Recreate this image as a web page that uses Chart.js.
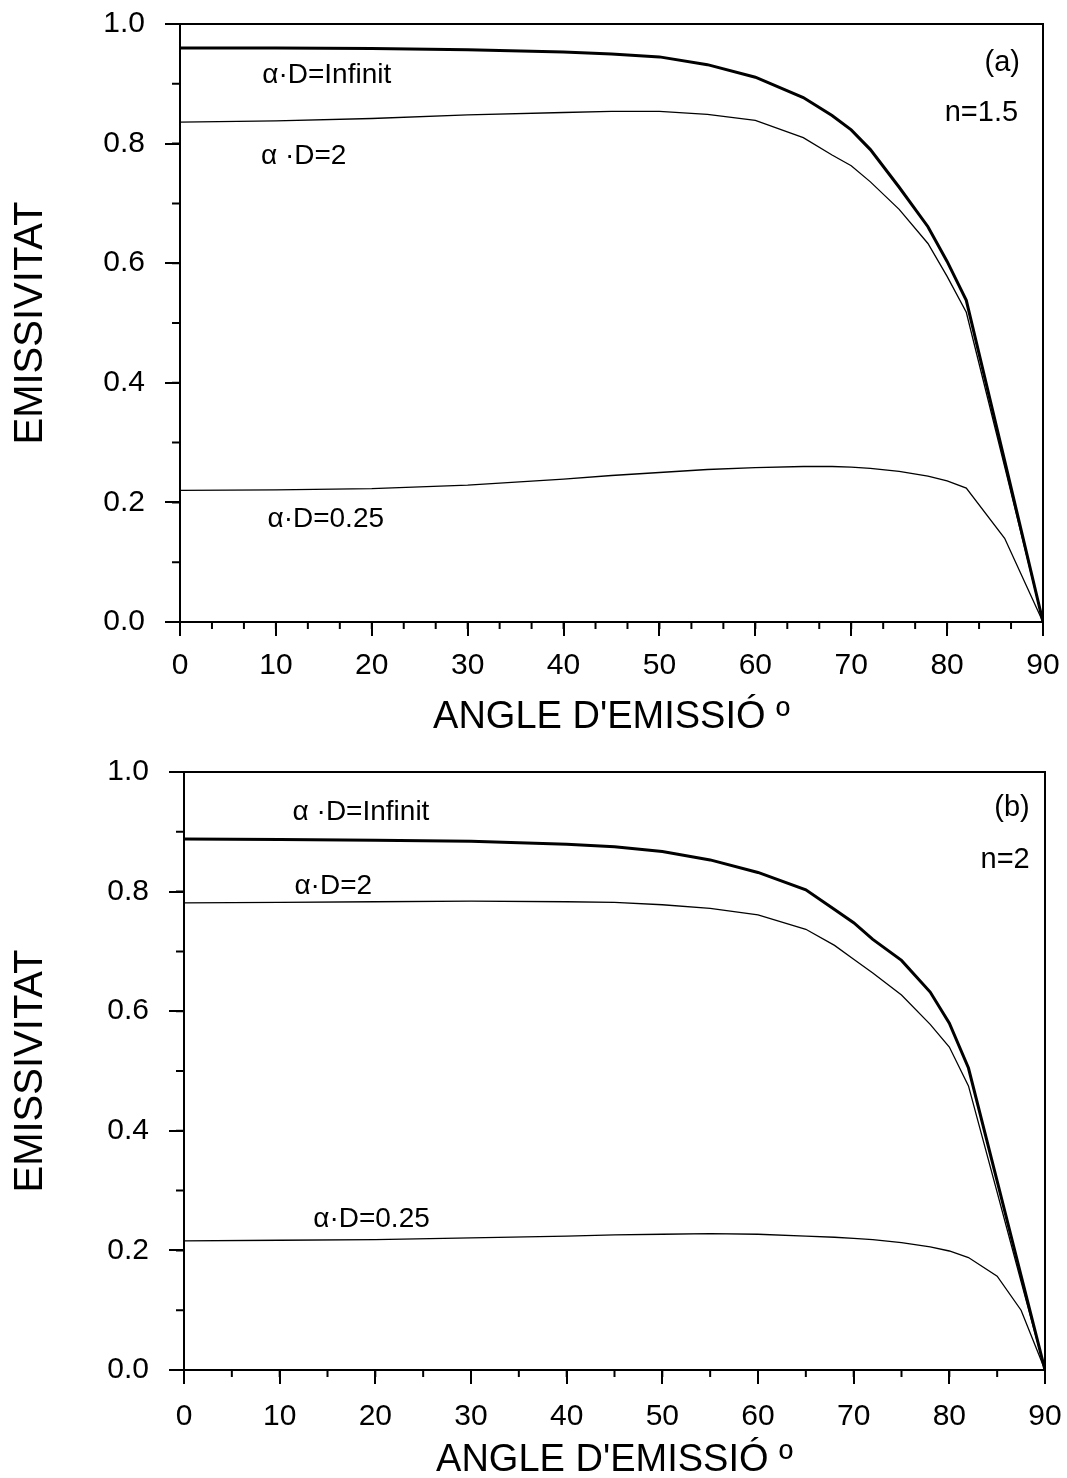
<!DOCTYPE html>
<html>
<head>
<meta charset="utf-8">
<script src="https://cdn.jsdelivr.net/npm/chart.js@4.4.1/dist/chart.umd.min.js"></script>
<style>
  body { margin: 0; background: #fff; }
  canvas { display: block; }
</style>
</head>
<body>
<canvas id="chartA" width="1067" height="740"></canvas>
<canvas id="chartB" width="1067" height="738"></canvas>
<script>
// --- DATOS ---
// (a) n=1.5
const angulosA = [0, 10, 20, 30, 40, 45, 50, 55, 60, 65, 68, 70, 72, 75, 78, 80, 82, 86, 90];
const infinitA = [0.960, 0.960, 0.959, 0.957, 0.953, 0.950, 0.945, 0.932, 0.911, 0.877, 0.847, 0.823, 0.790, 0.727, 0.661, 0.603, 0.538, 0.27, 0.0];
const dos_A    = [0.836, 0.838, 0.842, 0.848, 0.852, 0.854, 0.854, 0.849, 0.839, 0.810, 0.781, 0.763, 0.736, 0.690, 0.633, 0.578, 0.518, 0.26, 0.0];
const cuartoA  = [0.220, 0.221, 0.223, 0.229, 0.239, 0.245, 0.250, 0.255, 0.258, 0.260, 0.260, 0.259, 0.257, 0.252, 0.244, 0.236, 0.224, 0.14, 0.0];

// (b) n=2
const angulosB = [0, 10, 20, 30, 40, 45, 50, 55, 60, 65, 68, 70, 72, 75, 78, 80, 82, 85, 87.5, 90];
const infinitB = [0.888, 0.887, 0.886, 0.884, 0.879, 0.875, 0.867, 0.853, 0.832, 0.803, 0.770, 0.748, 0.720, 0.685, 0.632, 0.580, 0.505, 0.316, 0.158, 0.0];
const dos_B    = [0.781, 0.782, 0.783, 0.784, 0.783, 0.782, 0.778, 0.772, 0.761, 0.737, 0.710, 0.687, 0.664, 0.627, 0.578, 0.540, 0.475, 0.297, 0.148, 0.0];
const cuartoB  = [0.216, 0.217, 0.218, 0.221, 0.224, 0.226, 0.227, 0.228, 0.227, 0.224, 0.222, 0.220, 0.218, 0.213, 0.206, 0.199, 0.188, 0.157, 0.100, 0.0];

const ticksX = { min: 0, max: 90, paso: 10 };
const ticksY = { min: 0, max: 1, paso: 0.2 };

const FUENTE = 'Arial, "Liberation Sans", sans-serif';
Chart.defaults.font.family = FUENTE;
Chart.defaults.color = '#000';

function puntos(xs, ys) {
    return xs.map((x, i) => ({ x: x, y: ys[i] }));
}

// ================= PLUGIN: marco, ticks menores y textos =================
const pluginMarco = {
    id: 'marco',
    afterDraw(chart, args, opts) {
        const ctx = chart.ctx;
        const a = chart.chartArea;
        const sx = chart.scales.x;
        const sy = chart.scales.y;
        ctx.save();
        ctx.strokeStyle = '#000';
        ctx.lineWidth = 2;
        ctx.strokeRect(a.left, a.top, a.right - a.left, a.bottom - a.top);

        // ticks menores
        ctx.beginPath();
        for (let v = ticksX.min; v <= ticksX.max + 1e-6; v += opts.menorX) {
            const px = sx.getPixelForValue(v);
            ctx.moveTo(px, a.bottom);
            ctx.lineTo(px, a.bottom + 7);
        }
        for (let v = ticksY.min; v <= ticksY.max + 1e-6; v += opts.menorY) {
            const py = sy.getPixelForValue(v);
            ctx.moveTo(a.left - 8, py);
            ctx.lineTo(a.left, py);
        }
        ctx.stroke();

        // textos dentro de la grafica
        ctx.fillStyle = '#000';
        ctx.textBaseline = 'middle';
        opts.textos.forEach(t => {
            ctx.font = t.size + 'px ' + FUENTE;
            ctx.textAlign = t.align || 'center';
            ctx.fillText(t.text, sx.getPixelForValue(t.x), sy.getPixelForValue(t.y));
        });
        ctx.restore();
    }
};

function crearGrafica(id, cfg) {
    const ctx = document.getElementById(id).getContext('2d');
    return new Chart(ctx, {
        type: 'line',
        data: {
            datasets: [
                { data: puntos(cfg.angulos, cfg.infinit), borderWidth: 3 },
                { data: puntos(cfg.angulos, cfg.dos), borderWidth: 1.3 },
                { data: puntos(cfg.angulos, cfg.cuarto), borderWidth: 1.3 }
            ].map(d => Object.assign(d, {
                borderColor: '#000', pointRadius: 0, tension: 0, fill: false
            }))
        },
        options: {
            responsive: false,
            animation: false,
            layout: { padding: { top: cfg.padTop, right: cfg.padRight, left: 0, bottom: 0 } },
            plugins: {
                legend: { display: false },
                tooltip: { enabled: false },
                marco: { menorX: cfg.menorX, menorY: 0.1, textos: cfg.textos }
            },
            scales: {
                x: {
                    type: 'linear',
                    min: ticksX.min, max: ticksX.max,
                    afterFit: s => {
                        s.height = cfg.altoX;
                        s.paddingLeft = 0; s.paddingRight = 0;
                    },
                    ticks: { stepSize: ticksX.paso, font: { size: 30 }, padding: cfg.padTicksX, maxRotation: 0 },
                    grid: { drawOnChartArea: false, tickLength: 14, color: '#000', lineWidth: 2 },
                    border: { color: '#000', width: 2 },
                    title: { display: true, text: "ANGLE D'EMISSIÓ º", font: { size: 38 }, padding: { top: 0, bottom: cfg.padTituloX } }
                },
                y: {
                    min: ticksY.min, max: ticksY.max,
                    afterFit: s => {
                        s.width = cfg.anchoY;
                        s.paddingTop = 0; s.paddingBottom = 0;
                    },
                    ticks: { stepSize: ticksY.paso, font: { size: 30 }, padding: 20, callback: v => v.toFixed(1) },
                    grid: { drawOnChartArea: false, tickLength: 15, color: '#000', lineWidth: 2 },
                    border: { color: '#000', width: 2 },
                    title: { display: true, text: 'EMISSIVITAT', font: { size: 40 }, padding: 7 }
                }
            }
        },
        plugins: [pluginMarco]
    });
}

crearGrafica('chartA', {
    angulos: angulosA, infinit: infinitA, dos: dos_A, cuarto: cuartoA,
    padTop: 24, padRight: 24, anchoY: 180, altoX: 118, menorX: 10 / 3,
    padTicksX: 12, padTituloX: 0,
    textos: [
        { text: 'α·D=Infinit', x: 15.3, y: 0.915, size: 28 },
        { text: 'α ·D=2', x: 12.9, y: 0.778, size: 28 },
        { text: 'α·D=0.25', x: 15.2, y: 0.171, size: 28 },
        { text: '(a)', x: 87.6, y: 0.935, size: 29, align: 'right' },
        { text: 'n=1.5', x: 87.4, y: 0.851, size: 29, align: 'right' }
    ]
});

crearGrafica('chartB', {
    angulos: angulosB, infinit: infinitB, dos: dos_B, cuarto: cuartoB,
    padTop: 32, padRight: 22, anchoY: 184, altoX: 108, menorX: 5,
    padTicksX: 15, padTituloX: -5,
    textos: [
        { text: 'α ·D=Infinit', x: 18.5, y: 0.933, size: 28 },
        { text: 'α·D=2', x: 15.6, y: 0.809, size: 28 },
        { text: 'α·D=0.25', x: 19.6, y: 0.252, size: 28 },
        { text: '(b)', x: 88.4, y: 0.94, size: 29, align: 'right' },
        { text: 'n=2', x: 88.4, y: 0.853, size: 29, align: 'right' }
    ]
});
</script>
</body>
</html>
